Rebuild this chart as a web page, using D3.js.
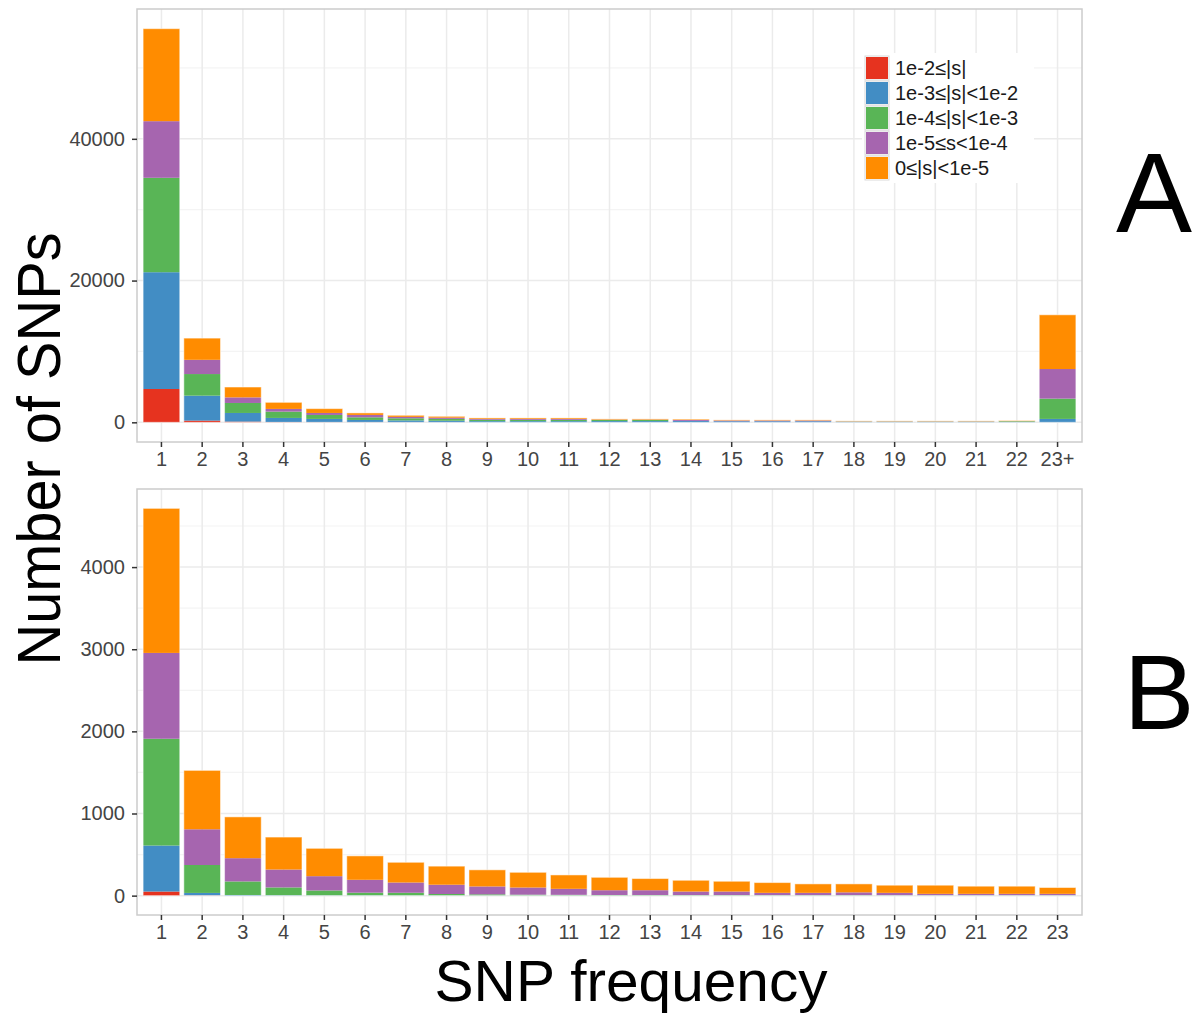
<!DOCTYPE html>
<html>
<head>
<meta charset="utf-8">
<script src="https://cdn.jsdelivr.net/npm/d3@7"></script>
<style>
  body { margin: 0; background: #fff; }
  svg { font-family: "Liberation Sans", Arial, sans-serif; }
  .tick text { fill: #444; font-size: 20px; }
  .tick line { stroke: #333; }
  .domain { display: none; }
</style>
</head>
<body>
<svg id="chart" width="1196" height="1018"></svg>
<script>
// categories
var categoriesA = ["1","2","3","4","5","6","7","8","9","10","11","12","13","14","15","16","17","18","19","20","21","22","23+"];
var categoriesB = ["1","2","3","4","5","6","7","8","9","10","11","12","13","14","15","16","17","18","19","20","21","22","23"];

var seriesNames = ["1e-2≤|s|", "1e-3≤|s|<1e-2", "1e-4≤|s|<1e-3", "1e-5≤s<1e-4", "0≤|s|<1e-5"];
var seriesColors = ["#e6331f", "#428dc4", "#59b556", "#a665af", "#ff8c00"];

// panel A values (bottom to top of each stack)
var redA    = [4700, 240, 100, 30, 20, 15, 10, 5, 0, 0, 0, 0, 0, 0, 0, 0, 0, 0, 0, 0, 0, 0, 0];
var blueA   = [16480, 3520, 1220, 590, 460, 320, 260, 220, 170, 170, 170, 180, 180, 200, 160, 160, 160, 110, 110, 110, 110, 40, 480];
var greenA  = [13320, 3050, 1410, 890, 560, 370, 300, 260, 190, 180, 180, 160, 160, 0, 0, 0, 0, 10, 10, 10, 10, 110, 2860];
var purpleA = [7990, 2010, 790, 380, 280, 340, 200, 170, 120, 130, 130, 40, 40, 130, 100, 100, 100, 10, 10, 10, 10, 20, 4180];
var orangeA = [13050, 3060, 1460, 930, 610, 280, 220, 190, 140, 140, 140, 100, 100, 110, 80, 80, 80, 70, 70, 70, 70, 70, 7650];

// panel B values
var redB    = [50, 3, 0, 0, 0, 0, 0, 0, 0, 0, 0, 0, 0, 0, 0, 0, 0, 0, 0, 0, 0, 0, 0];
var blueB   = [560, 30, 8, 5, 3, 3, 2, 2, 2, 2, 2, 2, 2, 2, 2, 2, 2, 2, 2, 2, 2, 2, 2];
var greenB  = [1300, 340, 165, 95, 60, 33, 33, 18, 14, 10, 8, 6, 6, 5, 5, 4, 4, 4, 3, 3, 3, 3, 3];
var purpleB = [1045, 435, 283, 218, 174, 157, 125, 113, 96, 87, 73, 58, 58, 43, 43, 28, 28, 34, 29, 17, 17, 17, 17];
var orangeB = [1760, 717, 503, 395, 339, 291, 246, 226, 202, 185, 169, 157, 142, 137, 125, 125, 109, 103, 93, 105, 93, 93, 77];

var ticksA = [0, 20000, 40000];
var ticksB = [0, 1000, 2000, 3000, 4000];

var svg = d3.select("#chart");

function drawPanel(cats, series, yTicks, box)
{
    var rows = cats.map(function(c, i) {
        var r = { cat: c };
        series.forEach(function(s, k) { r[k] = s[i]; });
        return r;
    });
    var keys = series.map(function(s, k) { return k; });
    var stacked = d3.stack().keys(keys)(rows);
    var maxVal = d3.max(rows, function(r) { return d3.sum(keys, function(k) { return r[k]; }); });
    var pad = maxVal * 0.05;

    var x = d3.scaleBand()
        .domain(cats)
        .range([box.left, box.right])
        .paddingInner(0.1)
        .paddingOuter(0.15);

    var y = d3.scaleLinear()
        .domain([-pad, maxVal + pad])
        .range([box.bottom, box.top]);

    var g = svg.append("g");

    // minor grid
    var step = yTicks[1] - yTicks[0];
    var minor = [];
    for (var v = step / 2; v < maxVal + pad; v += step) minor.push(v);
    g.selectAll(".minor").data(minor).enter().append("line")
        .attr("x1", box.left).attr("x2", box.right)
        .attr("y1", d => y(d)).attr("y2", d => y(d))
        .attr("stroke", "#f4f4f4").attr("stroke-width", 1.2);

    // major grid
    g.selectAll(".hgrid").data(yTicks).enter().append("line")
        .attr("x1", box.left).attr("x2", box.right)
        .attr("y1", d => y(d)).attr("y2", d => y(d))
        .attr("stroke", "#ebebeb").attr("stroke-width", 1.5);

    g.selectAll(".vgrid").data(cats).enter().append("line")
        .attr("x1", d => x(d) + x.bandwidth() / 2).attr("x2", d => x(d) + x.bandwidth() / 2)
        .attr("y1", box.top).attr("y2", box.bottom)
        .attr("stroke", "#ebebeb").attr("stroke-width", 1.5);

    // bars
    g.selectAll(".layer").data(stacked).enter().append("g")
        .attr("fill", d => seriesColors[d.key])
        .selectAll("rect").data(d => d).enter().append("rect")
        .attr("x", d => x(d.data.cat))
        .attr("width", x.bandwidth())
        .attr("y", d => y(d[1]))
        .attr("height", d => Math.max(0, y(d[0]) - y(d[1])));

    // soft outline around each full bar
    g.selectAll(".outline").data(rows).enter().append("rect")
        .attr("x", d => x(d.cat))
        .attr("width", x.bandwidth())
        .attr("y", d => y(d3.sum(keys, k => d[k])))
        .attr("height", d => y(0) - y(d3.sum(keys, k => d[k])))
        .attr("fill", "none")
        .attr("stroke", "#fff")
        .attr("stroke-opacity", 0.5)
        .attr("stroke-width", 1);

    // frame
    g.append("rect")
        .attr("x", box.left).attr("y", box.top)
        .attr("width", box.right - box.left).attr("height", box.bottom - box.top)
        .attr("fill", "none").attr("stroke", "#cccccc").attr("stroke-width", 1.5);

    g.append("g")
        .attr("transform", `translate(0,${box.bottom})`)
        .call(d3.axisBottom(x).tickSize(5).tickPadding(5))
        .call(a => a.selectAll(".tick line").attr("stroke-width", 1.5));

    g.append("g")
        .attr("transform", `translate(${box.left},0)`)
        .call(d3.axisLeft(y).tickValues(yTicks).tickFormat(d3.format("d")).tickSize(5).tickPadding(7))
        .call(a => a.selectAll(".tick line").attr("stroke-width", 1.5));

    return g;
}

drawPanel(categoriesA, [redA, blueA, greenA, purpleA, orangeA], ticksA,
    { left: 137, right: 1082, top: 9, bottom: 442 });
drawPanel(categoriesB, [redB, blueB, greenB, purpleB, orangeB], ticksB,
    { left: 137, right: 1082, top: 489, bottom: 915 });

// legend
var legend = svg.append("g").attr("transform", "translate(864,55)");
legend.append("rect")
    .attr("x", -2).attr("y", -2).attr("width", 172).attr("height", 130)
    .attr("fill", "#fff");
var items = legend.selectAll(".item").data(seriesNames).enter().append("g")
    .attr("transform", (d, i) => `translate(0,${i * 25})`);
items.append("rect")
    .attr("x", 1).attr("y", 1).attr("width", 24).attr("height", 24)
    .attr("fill", "#fff").attr("stroke", "#d9d9d9");
items.append("rect")
    .attr("x", 2).attr("y", 2).attr("width", 22).attr("height", 22)
    .attr("fill", (d, i) => seriesColors[i]);
items.append("text")
    .attr("x", 31).attr("y", 20)
    .attr("font-size", 20).attr("fill", "#1a1a1a")
    .text(d => d);

// axis titles
svg.append("text")
    .attr("transform", "translate(60,449) rotate(-90)")
    .attr("text-anchor", "middle")
    .attr("font-size", 62)
    .attr("textLength", 433)
    .attr("lengthAdjust", "spacingAndGlyphs")
    .text("Number of SNPs");

svg.append("text")
    .attr("x", 631).attr("y", 1001)
    .attr("text-anchor", "middle")
    .attr("font-size", 58)
    .attr("textLength", 393)
    .attr("lengthAdjust", "spacingAndGlyphs")
    .text("SNP frequency");

// panel letters
svg.append("text").attr("x", 1154).attr("y", 232).attr("text-anchor", "middle")
    .attr("font-size", 114).text("A");
svg.append("text").attr("x", 1159).attr("y", 729).attr("text-anchor", "middle")
    .attr("font-size", 106).text("B");
</script>
</body>
</html>
